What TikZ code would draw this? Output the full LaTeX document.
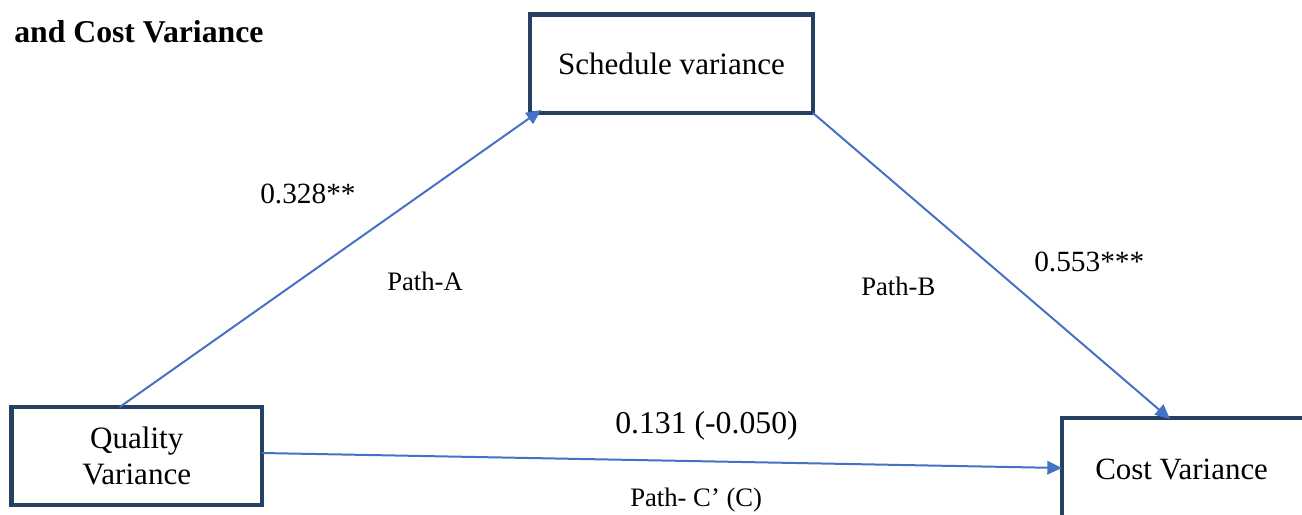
\documentclass[tikz,border=0pt]{standalone}
\usepackage{fontspec}
\setmainfont{Liberation Serif}
\usetikzlibrary{arrows.meta,calc}
\definecolor{boxnavy}{HTML}{254061}
\definecolor{pathblue}{HTML}{4472C4}
\begin{document}
\begin{tikzpicture}[x=0.75pt,y=-0.75pt,
  varbox/.style={draw=boxnavy, line width=3.4pt, rectangle, inner sep=0pt,
    outer sep=0pt, align=center, font=\fontsize{23.3}{27}\selectfont},
  pathline/.style={draw=pathblue, line width=1.5pt,
    -{Triangle[length=11pt,width=10pt]}},
  coef/.style={anchor=base west, inner sep=0pt, font=\fontsize{22}{26}\selectfont},
  bigcoef/.style={anchor=base west, inner sep=0pt, font=\fontsize{23.8}{28}\selectfont},
  pathname/.style={anchor=base west, inner sep=0pt, font=\fontsize{20}{24}\selectfont},
  boxlabel/.style={anchor=base west, inner sep=0pt, font=\fontsize{23.2}{27}\selectfont}
]
\useasboundingbox (0,0) rectangle (1302,514);
\clip (0,0) rectangle (1302,514);

% heading line
\node[anchor=base west, inner sep=0pt, font=\fontsize{23.8}{28}\selectfont\bfseries]
  (title) at (14,42) {and Cost Variance};

% variables
\node[varbox, minimum width=187.9pt, minimum height=73.5pt] (qual) at (136.75,456)
  {Quality\\Variance};
\node[varbox, minimum width=212.25pt, minimum height=73.9pt] (sched) at (671.5,63.75)
  {Schedule variance};
\node[varbox, minimum width=300pt, minimum height=200pt, anchor=north west]
  (cost) at (1062,418) {};
\node[boxlabel] (costtext) at ($(cost.north west)+(33,61)$) {Cost Variance};

% paths
\draw[pathline] ($(qual.north)+(-17,0)$) -- ($(sched.south west)+(11,-3)$);
\draw[pathline] (sched.south east) -- ($(cost.north west)+(108,1)$);
\draw[pathline] ($(qual.east)+(0,-3)$) -- ($(cost.north west)+(0,50)$);

% coefficients and path names
\node[coef] (ca) at (260,203) {0.328**};
\node[pathname] (pa) at (387,290) {Path-A};
\node[coef] (cb) at (1034,271) {0.553***};
\node[pathname] (pb) at (861,295) {Path-B};
\node[bigcoef] (cc) at (615,433) {0.131 (-0.050)};
\node[pathname] (pc) at (630,506) {Path- C’ (C)};
\end{tikzpicture}
\end{document}
